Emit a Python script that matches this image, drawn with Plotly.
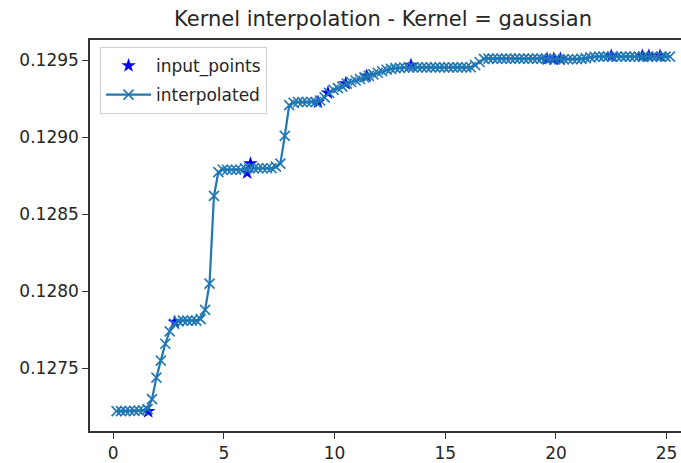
import plotly.graph_objects as go

# Interpolated curve (x sample positions and values)
interp_x = [0.15, 0.35, 0.55, 0.75, 0.95, 1.15, 1.35, 1.55, 1.75, 1.95,
            2.15, 2.35, 2.55, 2.75, 2.95, 3.15, 3.35, 3.55, 3.75, 3.95,
            4.15, 4.35, 4.55, 4.75, 4.95, 5.15, 5.35, 5.55, 5.75, 5.95,
            6.15, 6.35, 6.55, 6.75, 6.95, 7.15, 7.35, 7.55, 7.75, 7.95,
            8.15, 8.35, 8.55, 8.75, 8.95, 9.15, 9.35, 9.55, 9.75, 9.95,
            10.15, 10.35, 10.55, 10.75, 10.95, 11.15, 11.35, 11.55, 11.75, 11.95,
            12.15, 12.35, 12.55, 12.75, 12.95, 13.15, 13.35, 13.55, 13.75, 13.95,
            14.15, 14.35, 14.55, 14.75, 14.95, 15.15, 15.35, 15.55, 15.75, 15.95,
            16.15, 16.35, 16.55, 16.75, 16.95, 17.15, 17.35, 17.55, 17.75, 17.95,
            18.15, 18.35, 18.55, 18.75, 18.95, 19.15, 19.35, 19.55, 19.75, 19.95,
            20.15, 20.35, 20.55, 20.75, 20.95, 21.15, 21.35, 21.55, 21.75, 21.95,
            22.15, 22.35, 22.55, 22.75, 22.95, 23.15, 23.35, 23.55, 23.75, 23.95,
            24.15, 24.35, 24.55, 24.75, 24.95, 25.15]
interp_y = [0.127222, 0.127222, 0.127222, 0.127223, 0.127224, 0.127226, 0.127228, 0.127235, 0.12730, 0.12744,
            0.12755, 0.12766, 0.12774, 0.12779, 0.127805, 0.12781, 0.12781, 0.12781, 0.12781, 0.12782,
            0.12788, 0.12805, 0.12862, 0.128775, 0.12879, 0.12879, 0.12879, 0.12879, 0.12879, 0.12880,
            0.12880, 0.12880, 0.12880, 0.12880, 0.12880, 0.12880, 0.12881, 0.12883, 0.12901, 0.12921,
            0.129225, 0.12923, 0.12923, 0.12923, 0.12923, 0.12923, 0.12924, 0.12926, 0.12929, 0.12931,
            0.12932, 0.12933, 0.12935, 0.12936, 0.12937, 0.12938, 0.12939, 0.12940, 0.12941, 0.12942,
            0.12943, 0.12944, 0.129445, 0.12945, 0.129452, 0.129454, 0.129455, 0.129455, 0.129455, 0.129455,
            0.129455, 0.129455, 0.129455, 0.129455, 0.129455, 0.129455, 0.129455, 0.129455, 0.129455, 0.129455,
            0.129456, 0.12947, 0.12949, 0.12951, 0.129512, 0.129512, 0.129512, 0.129512, 0.129512, 0.129512,
            0.129512, 0.129512, 0.129512, 0.129512, 0.129512, 0.129512, 0.129512, 0.129512, 0.129510, 0.129508,
            0.129508, 0.129508, 0.129508, 0.129508, 0.129508, 0.129510, 0.129515, 0.12952, 0.129524, 0.129525,
            0.129525, 0.129525, 0.129525, 0.129525, 0.129525, 0.129525, 0.129525, 0.129525, 0.129525, 0.129525,
            0.129525, 0.129525, 0.129525, 0.129525, 0.129525, 0.129525]

# Input points
input_x = [1.58, 2.78, 6.05, 6.2, 9.25, 9.7, 10.5, 11.45, 13.45,
           19.6, 19.9, 20.2, 22.5, 23.9, 24.2, 24.7]
input_y = [0.12722, 0.12780, 0.12877, 0.12883, 0.12923, 0.12929, 0.12935, 0.12940, 0.12947,
           0.12951, 0.12951, 0.12951, 0.12953, 0.12953, 0.12953, 0.12953]

x_ticks = [0, 5, 10, 15, 20, 25]
y_ticks = [0.1275, 0.1280, 0.1285, 0.1290, 0.1295]
y_tick_labels = ["0.1275", "0.1280", "0.1285", "0.1290", "0.1295"]

FONT = "DejaVu Sans"
TXT = "#262626"

fig = go.Figure()
fig.add_trace(go.Scatter(
    x=input_x, y=input_y, mode="markers", name="input_points", legendgroup="a",
    marker=dict(symbol="star", color="#0000ff", size=11, line=dict(width=0)),
))
fig.add_trace(go.Scatter(
    x=interp_x, y=interp_y, mode="lines+markers", name="interpolated", legendgroup="b",
    line=dict(color="#1f77b4", width=2.2),
    marker=dict(symbol="x-thin", size=10, color="#1f77b4",
                line=dict(color="#1f77b4", width=1.6)),
))

fig.update_layout(
    width=681, height=463,
    margin=dict(l=90, r=0, t=40, b=28),
    paper_bgcolor="white", plot_bgcolor="white",
    font=dict(family=FONT, size=17, color=TXT),
    title=dict(text="Kernel interpolation - Kernel = gaussian",
               x=383 / 681, xanchor="center", y=1 - 19 / 463, yanchor="middle",
               font=dict(family=FONT, size=21, color=TXT)),
    showlegend=True,
    legend=dict(x=0.017, y=0.982, xanchor="left", yanchor="top",
                bgcolor="rgba(255,255,255,0.8)", bordercolor="#d0d0d0", borderwidth=1,
                font=dict(family=FONT, size=17, color=TXT),
                itemwidth=45, traceorder="grouped", tracegroupgap=4),
    xaxis=dict(range=[-1.05, 25.65], tickvals=x_ticks, ticks="outside", ticklen=6,
               tickcolor="#333333", tickwidth=1.2, showline=True, linecolor="#333333",
               linewidth=1.5, mirror=True, showgrid=False, zeroline=False,
               tickfont=dict(family=FONT, size=17, color=TXT)),
    yaxis=dict(range=[0.127093, 0.129633], tickvals=y_ticks, ticktext=y_tick_labels,
               ticks="outside", ticklen=6, tickcolor="#333333", tickwidth=1.2,
               showline=True, linecolor="#333333", linewidth=1.5, mirror=False,
               showgrid=False, zeroline=False,
               tickfont=dict(family=FONT, size=17, color=TXT)),
)

fig.write_html("out.html")
